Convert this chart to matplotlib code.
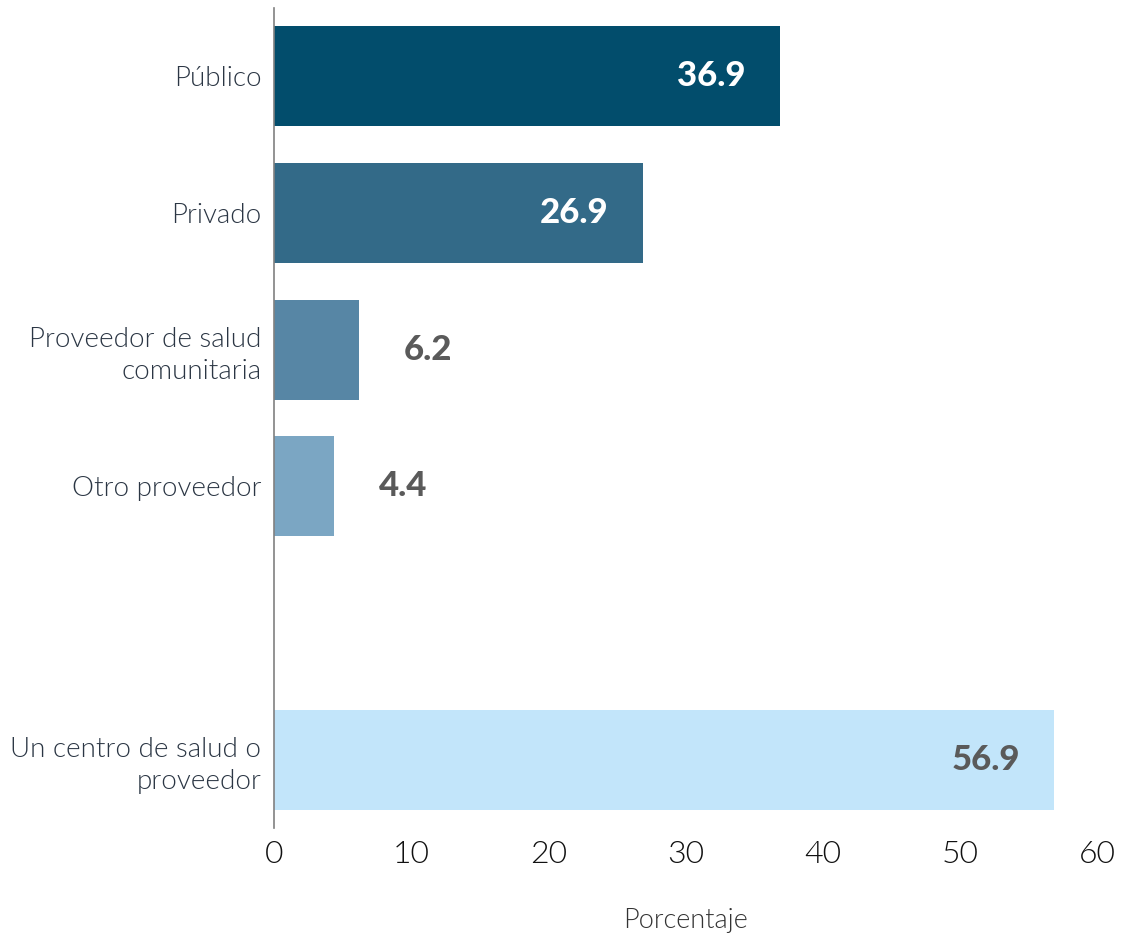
import matplotlib.pyplot as plt
from matplotlib import font_manager

categories = ["Público", "Privado", "Proveedor de salud\ncomunitaria",
              "Otro proveedor", "Un centro de salud o\nproveedor"]
values = [36.9, 26.9, 6.2, 4.4, 56.9]
positions = [0, 1, 2, 3, 5]
colors = ["#024d6c", "#336a88", "#5786a5", "#7ba6c3", "#c2e5fa"]
inside = [True, True, False, False, True]
label_colors = ["white", "white", "#5a5a5a", "#5a5a5a", "#5a5a5a"]
xticks = [0, 10, 20, 30, 40, 50, 60]

names = {f.name for f in font_manager.fontManager.ttflist}
fam = "Lato" if "Lato" in names else "DejaVu Sans"
plt.rcParams['font.family'] = [fam, 'DejaVu Sans']

fig = plt.figure(figsize=(11.26, 9.43), dpi=100)
ax = fig.add_axes([0.2433, 0.122, 0.7309, 0.8695])

ax.barh(positions, values, height=0.73, color=colors)
ax.set_xlim(0, 60)
ax.set_ylim(5.5, -0.5)

for pos, v, ins, c in zip(positions, values, inside, label_colors):
    if ins:
        ax.annotate(f"{v:.1f}", (v, pos), xytext=(-25, 0), textcoords="offset points",
                    ha="right", va="center", color=c, fontsize=25, fontweight=900)
    else:
        ax.annotate(f"{v:.1f}", (v, pos), xytext=(32, 0), textcoords="offset points",
                    ha="left", va="center", color=c, fontsize=25, fontweight=900)

ax.set_yticks(positions)
ax.set_yticklabels(categories, fontsize=20, color="#2b3644", fontweight=300,
                   linespacing=1.35)
ax.tick_params(axis="y", length=0, pad=9)
ax.set_xticks(xticks)
ax.tick_params(axis="x", length=0, labelsize=23, pad=9, labelcolor="#111111")
for lbl in ax.get_xticklabels():
    lbl.set_fontweight(300)

ax.set_xlabel("Porcentaje", fontsize=19.5, color="#333333", labelpad=28, fontweight=300)

for s in ["top", "right", "bottom"]:
    ax.spines[s].set_visible(False)
ax.spines["left"].set_color("#808080")
ax.spines["left"].set_linewidth(1.2)

fig.savefig("out.png", dpi=100)
